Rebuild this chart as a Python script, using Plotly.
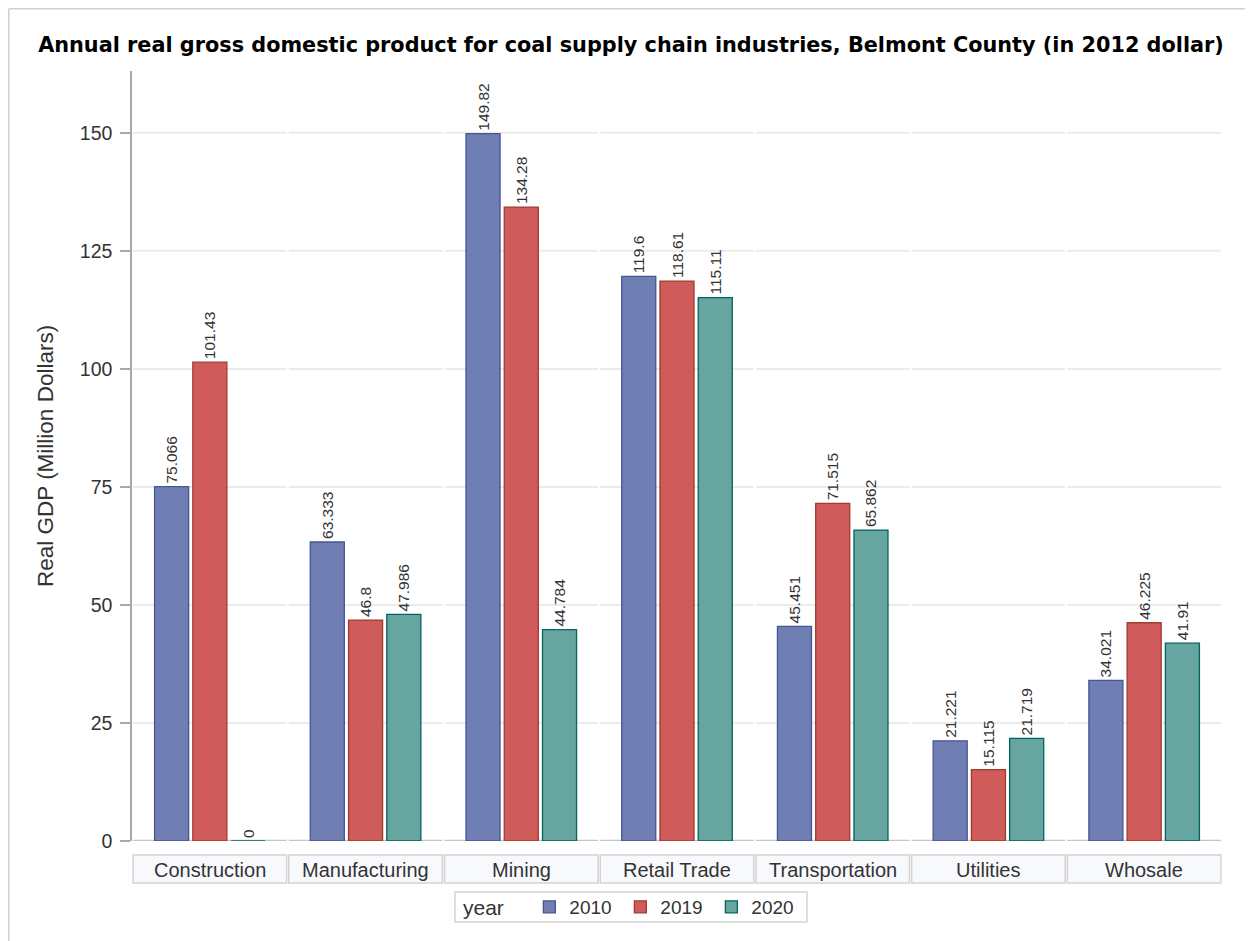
import plotly.graph_objects as go

categories = ["Construction", "Manufacturing", "Mining", "Retail Trade",
              "Transportation", "Utilities", "Whosale"]
years = ["2010", "2019", "2020"]
values_2010 = [75.066, 63.333, 149.82, 119.6, 45.451, 21.221, 34.021]
values_2019 = [101.43, 46.8, 134.28, 118.61, 71.515, 15.115, 46.225]
values_2020 = [0, 47.986, 44.784, 115.11, 65.862, 21.719, 41.91]
labels_2010 = ["75.066", "63.333", "149.82", "119.6", "45.451", "21.221", "34.021"]
labels_2019 = ["101.43", "46.8", "134.28", "118.61", "71.515", "15.115", "46.225"]
labels_2020 = ["0", "47.986", "44.784", "115.11", "65.862", "21.719", "41.91"]
y_ticks = [0, 25, 50, 75, 100, 125, 150]

fills = ["#6F7EB3", "#D05B5B", "#66A5A0"]
edges = ["#445694", "#A23A2E", "#01665E"]

OFF = 8  # page body margin
W, H = 1253 - OFF, 941 - OFF
L, R, T, B = 132 - OFF, (W + OFF) - 1222, 71 - OFF, H - (841 - OFF)
PW, PH = W - L - R, H - T - B

def px_x(px):
    return (px - OFF - L) / PW

def px_y(py):
    return (H - B - (py - OFF)) / PH

FONT = "Liberation Sans, Arial"
TXT = "#333333"

fig = go.Figure()
for yr, vals, labs, fc, ec in zip(years, [values_2010, values_2019, values_2020],
                                  [labels_2010, labels_2019, labels_2020], fills, edges):
    fig.add_trace(go.Bar(
        x=categories, y=vals, name=yr, text=labs,
        textposition="outside", textangle=-90, constraintext="none",
        textfont=dict(family=FONT, size=15.5, color=TXT),
        marker=dict(color=fc, line=dict(color=ec, width=1.3)),
        cliponaxis=False,
    ))

shapes = []
d = 0.007
n = len(categories)
for i in range(n):
    for v in y_ticks[1:]:
        shapes.append(dict(type="line", xref="x", yref="y", x0=i - 0.5 + d, x1=i + 0.5 - d,
                           y0=v, y1=v, line=dict(color="#EBEBEB", width=2), layer="below"))
    shapes.append(dict(type="line", xref="x", yref="y", x0=i - 0.5 + d, x1=i + 0.5 - d,
                       y0=0, y1=0, line=dict(color="#C4C4C4", width=2.5), layer="below"))
    shapes.append(dict(type="rect", xref="x", yref="paper", x0=i - 0.5 + d, x1=i + 0.5 - d,
                       y0=px_y(883), y1=px_y(855), fillcolor="#F8F9FD",
                       line=dict(color="#D3D3D3", width=1.5), layer="below"))

# legend frame
shapes.append(dict(type="rect", xref="paper", yref="paper", x0=px_x(455), x1=px_x(807),
                   y0=px_y(922), y1=px_y(892), line=dict(color="#D3D3D3", width=1.5),
                   fillcolor="rgba(0,0,0,0)"))

# outer frame (left and top edges of the image)
shapes.append(dict(type="line", xref="paper", yref="paper", x0=px_x(8.8), x1=px_x(8.8),
                   y0=px_y(8.8), y1=px_y(960), line=dict(color="#D0D0D0", width=1.5)))
shapes.append(dict(type="line", xref="paper", yref="paper", x0=px_x(8.8), x1=px_x(1270),
                   y0=px_y(8.8), y1=px_y(8.8), line=dict(color="#D0D0D0", width=1.5)))

annotations = []
for c in categories:
    annotations.append(dict(x=c, xref="x", y=px_y(870), yref="paper", text=c,
                            showarrow=False, xanchor="center", yanchor="middle",
                            font=dict(family=FONT, size=20, color=TXT)))
annotations.append(dict(x=px_x(45), xref="paper", y=px_y(456), yref="paper",
                        text="Real GDP (Million Dollars)", textangle=-90, showarrow=False,
                        xanchor="center", yanchor="middle",
                        font=dict(family=FONT, size=22.5, color=TXT)))

fig.update_layout(
    width=W, height=H,
    margin=dict(l=L, r=R, t=T, b=B, pad=0, autoexpand=False),
    paper_bgcolor="white", plot_bgcolor="white",
    title=dict(text="Annual real gross domestic product for coal supply chain industries, Belmont County (in 2012 dollar)",
               x=(631 - OFF) / W, xanchor="center", y=1 - (45 - OFF) / H, yanchor="middle",
               font=dict(family="DejaVu Sans", size=20.8, color="#000000", weight="bold")),
    barmode="group", bargap=0.263, bargroupgap=0.11,
    showlegend=True,
    legend=dict(orientation="h", x=px_x(461), xanchor="left", y=px_y(907), yanchor="middle",
                borderwidth=0, bgcolor="rgba(0,0,0,0)",
                entrywidth=46, entrywidthmode="pixels",
                title=dict(text="year   ", font=dict(family=FONT, size=21, color=TXT)),
                font=dict(family=FONT, size=19, color=TXT),
                traceorder="normal"),
    shapes=shapes, annotations=annotations,
)
fig.update_xaxes(showticklabels=False, showline=False, showgrid=False, ticks="",
                 range=[-0.5, n - 0.5])
fig.update_yaxes(range=[0, 163.1], tickvals=y_ticks, showgrid=False, zeroline=False,
                 showline=True, linecolor="#A8A8A8", linewidth=1.5,
                 ticks="outside", ticklen=10, tickcolor="#A8A8A8", tickwidth=1.5,
                 ticklabelstandoff=4,
                 tickfont=dict(family=FONT, size=19.5, color=TXT))

fig.write_html("out.html")
